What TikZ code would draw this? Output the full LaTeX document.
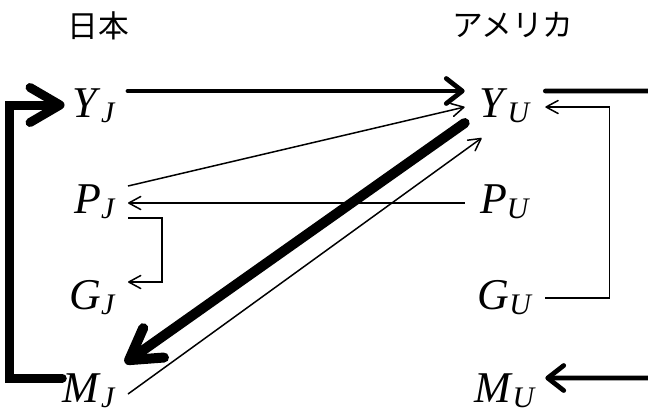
\documentclass[tikz,border=0pt]{standalone}
\usepackage{fontspec}
\setmainfont{Liberation Serif}
\newfontfamily\fuenteJP{Noto Sans CJK JP}
\usetikzlibrary{arrows.meta}
\newcommand{\mvar}[2]{\textit{#1}\raisebox{-0.12em}{\fontsize{17}{17}\selectfont\textit{#2}}}
\tikzset{
  varBase/.style={font=\fontsize{25}{30}\selectfont, inner sep=0pt},
  varJapon/.style={varBase, inner xsep=0.24cm, anchor=base east},
  varEEUU/.style={varBase, minimum width=1.6cm, anchor=base},
  etiquetaPais/.style={font=\fuenteJP\fontsize{17.5}{20}\selectfont, inner sep=0pt},
  flechaFina/.style={-{Straight Barb[round, length=0.24cm, width=0.26cm]}, line width=0.03cm},
  flechaMedia/.style={-{Straight Barb[round, length=0.32cm, width=0.5cm]}, line width=0.095cm, line cap=round},
  lineaMedia/.style={line width=0.095cm, line cap=round},
  flechaGruesa/.style={-{Straight Barb[round, length=0.6cm, width=0.7cm]}, line width=0.18cm, line cap=round},
  flechaDiagonal/.style={-{Straight Barb[round, length=0.6cm, width=0.72cm]}, line width=0.2cm, line cap=round},
}
\begin{document}
\begin{tikzpicture}[x=0.02cm, y=-0.02cm]
  \useasboundingbox (0,0) rectangle (648,414);
  \node[etiquetaPais] (jp) at (98,26) {日本};
  \node[etiquetaPais] (us) at (513,25) {アメリカ};
  \node[varJapon] (yj) at (128,117) {\mvar{Y}{J}};
  \node[varJapon] (pj) at (128,213) {\mvar{P}{J}};
  \node[varJapon] (gj) at (128,309) {\mvar{G}{J}};
  \node[varJapon] (mj) at (128,402) {\mvar{M}{J}};
  \node[varEEUU] (yu) at (505,117) {\mvar{Y}{U}};
  \node[varEEUU] (pu) at (505,213) {\mvar{P}{U}};
  \node[varEEUU] (gu) at (505,309) {\mvar{G}{U}};
  \node[varEEUU] (mu) at (505,402) {\mvar{M}{U}};
  \coordinate (bordeArriba) at (648,91);
  \coordinate (bordeAbajo) at (648,378);
  \draw[flechaMedia] ([yshift=0.52cm]yj.base east) -- ([yshift=0.52cm]yu.base west);
  \draw[flechaFina] ([yshift=0.54cm]pj.base east) -- ([yshift=0.2cm]yu.base west);
  \draw[flechaFina] ([yshift=0.2cm]pu.base west) -- ([yshift=0.2cm]pj.base east);
  \draw[flechaFina] ([yshift=-0.1cm]pj.base east) -- ++(34,0) |- ([yshift=0.54cm]gj.base east);
  \draw[flechaFina] ([yshift=0.22cm]gu.base east) -- ++(64,0) |- ([yshift=0.2cm]yu.base east);
  \draw[lineaMedia] ([yshift=0.52cm]yu.base east) -- (bordeArriba);
  \draw[flechaMedia] (bordeAbajo) -- ([yshift=0.48cm]mu.base east);
  \draw[flechaGruesa] ([xshift=0.24cm, yshift=0.48cm]mj.base west) -- ++(-53,0) |- ([xshift=0.08cm, yshift=0.24cm]yj.base west);
  \draw[flechaDiagonal] ([yshift=-0.12cm]yu.base west) -- ([xshift=-0.06cm, yshift=0.78cm]mj.base east);
  \draw[flechaFina] ([yshift=0.16cm]mj.base east) -- ([xshift=0.34cm, yshift=-0.42cm]yu.base west);
\end{tikzpicture}
\end{document}
